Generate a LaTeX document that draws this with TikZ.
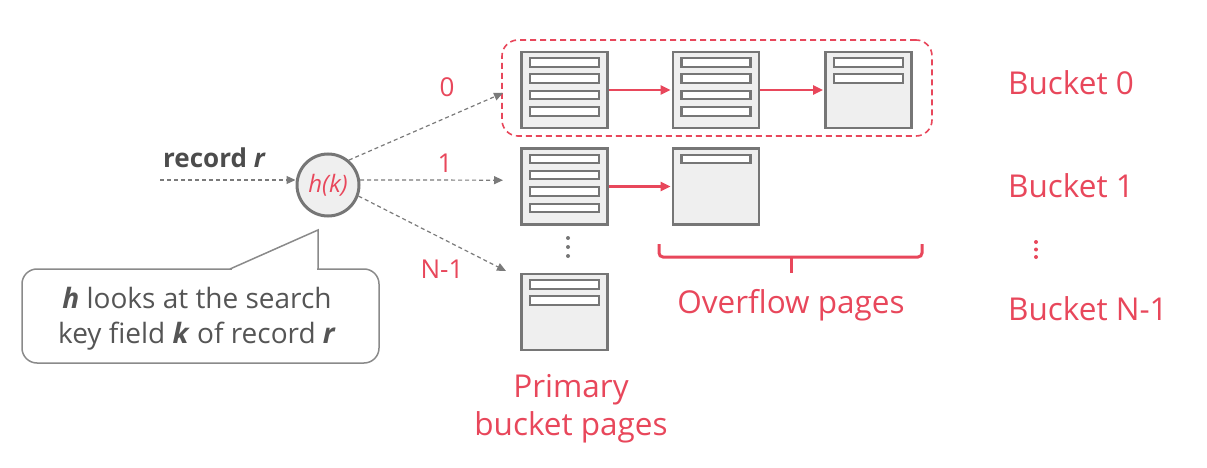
\documentclass[tikz,border=0pt]{standalone}
\usepackage{fontspec}
\setmainfont{Open Sans}
\usetikzlibrary{arrows.meta,calc}
\definecolor{hred}{HTML}{E8475B}
\definecolor{pgray}{HTML}{767676}
\definecolor{pfill}{HTML}{EFEFEF}
\definecolor{agray}{HTML}{7A7A7A}
\definecolor{tgray}{HTML}{555555}
\definecolor{cgray}{HTML}{8A8A8A}
\begin{document}
\begin{tikzpicture}[x=1pt,y=-1pt,
  page/.style={rectangle,draw=pgray,fill=pfill,line width=2.8pt,minimum width=86pt,minimum height=76pt,inner sep=0pt},
  bar/.style={rectangle,draw=pgray,fill=white,line width=2.2pt,minimum width=69pt,minimum height=8.5pt,inner sep=0pt},
  redarrow/.style={draw=hred,line width=2.5pt,-{Triangle[length=10pt,width=9pt]},shorten >=1pt},
  garrow/.style={draw=agray,line width=1.2pt,dash pattern=on 4pt off 3pt,-{Triangle[length=9pt,width=8pt]}},
  redlbl/.style={text=hred,font=\fontsize{31.5}{37}\selectfont,inner sep=0pt},
  numlbl/.style={text=hred,font=\fontsize{26}{31}\selectfont,inner sep=0pt},
  hnode/.style={circle,draw=pgray,fill=pfill,line width=3pt,minimum size=62pt,inner sep=0pt,text=hred,font=\fontsize{24}{28}\selectfont\itshape},
  b0box/.style={rectangle,draw=hred,line width=1.6pt,dash pattern=on 6pt off 4pt,rounded corners=16pt,minimum width=430pt,minimum height=96pt},
  notebox/.style={rectangle,draw=cgray,fill=white,line width=1.5pt,rounded corners=15pt,minimum width=357pt,minimum height=94pt},
  notetxt/.style={text=tgray,font=\fontsize{28}{33}\selectfont,inner sep=0pt},
  rectxt/.style={text=black!70,font=\fontsize{26}{31}\selectfont,inner sep=0pt},
  dot/.style={circle,fill=#1,inner sep=0pt,minimum size=4pt}
]
\useasboundingbox (0,0) rectangle (1207,468);

% bucket 0 dashed frame
\node[b0box] (b0) at (717,88) {};

% pages
\node[page] (p00) at (564.5,90) {};
\node[page] (p01) at (716,90) {};
\node[page] (p02) at (868.5,90) {};
\node[page] (p10) at (564.5,186.5) {};
\node[page] (p11) at (716,186.5) {};
\node[page] (pN) at (564.5,312) {};

\foreach \p/\offs in {p00/{12,28,44.5,61},p01/{12,28,44.5,61},p02/{12,28},p10/{12,28,44.5,61},p11/{12},pN/{12,28}}{
  \foreach \k [count=\i] in \offs {
    \node[bar] (\p b\i) at ($(\p.north)+(0,\k)$) {};
  }
}

% overflow chain arrows
\draw[redarrow] (p00) -- (p01);
\draw[redarrow] (p01) -- (p02);
\draw[redarrow] (p10) -- (p11);

% hash function
\node[hnode] (h) at (328,185) {h(k)};
\coordinate (in) at (160,180);
\coordinate (t0) at (503,93);
\coordinate (t1) at (503,180.2);
\coordinate (tN) at (506,271);
\draw[garrow] (in) -- (in -| h.west);
\draw[garrow] (h.50) -- (t0);
\draw[garrow] (h.9) -- (t1);
\draw[garrow] (h.-20) -- (tN);

\node[numlbl,anchor=base] (l0) at (447,97) {0};
\node[numlbl,anchor=base] (l1) at (445,172) {1};
\node[numlbl,anchor=base] (lN) at (442,278) {N-1};

\node[rectxt,anchor=base west] (rec) at (163,167) {\bfseries record \itshape r};

% vertical dots
\node[dot=pgray] (d1) at (568,238) {};
\node[dot=pgray] (d2) at (568,247) {};
\node[dot=pgray] (d3) at (568,256) {};
\node[dot=hred] (e1) at (1036,242) {};
\node[dot=hred] (e2) at (1036,249.5) {};
\node[dot=hred] (e3) at (1036,257) {};

% brace
\draw[hred,line width=3pt,rounded corners=4pt] (659,244) -- (659,257) -- (922,257) -- (922,244);
\draw[hred,line width=3pt] (791,257) -- (791,273);

% labels
\node[redlbl,anchor=base] (ov) at (791,313) {Overflow pages};
\node[redlbl,anchor=base] (pr1) at (571,397) {Primary};
\node[redlbl,anchor=base] (pr2) at (571,435) {bucket pages};
\node[redlbl,anchor=base west] (bk0) at (1008,95) {Bucket 0};
\node[redlbl,anchor=base west] (bk1) at (1008,197) {Bucket 1};
\node[redlbl,anchor=base west] (bkN) at (1008,320) {Bucket N-1};

% callout
\node[notebox] (note) at (200.5,316) {};
\fill[white] (231.5,267) -- (318,230) -- (318,267) -- cycle;
\fill[white] (231.5,267) rectangle (317.2,271);
\draw[cgray,line width=1.5pt,line join=miter] (230,269) -- (318,230) -- (318,269);
\node[notetxt,anchor=base] (n1) at (197,308) {\textbf{\textit{h}} looks at the search};
\node[notetxt,anchor=base] (n2) at (197,343) {key field \textbf{\textit{k}} of record \textbf{\textit{r}}};
\end{tikzpicture}
\end{document}
